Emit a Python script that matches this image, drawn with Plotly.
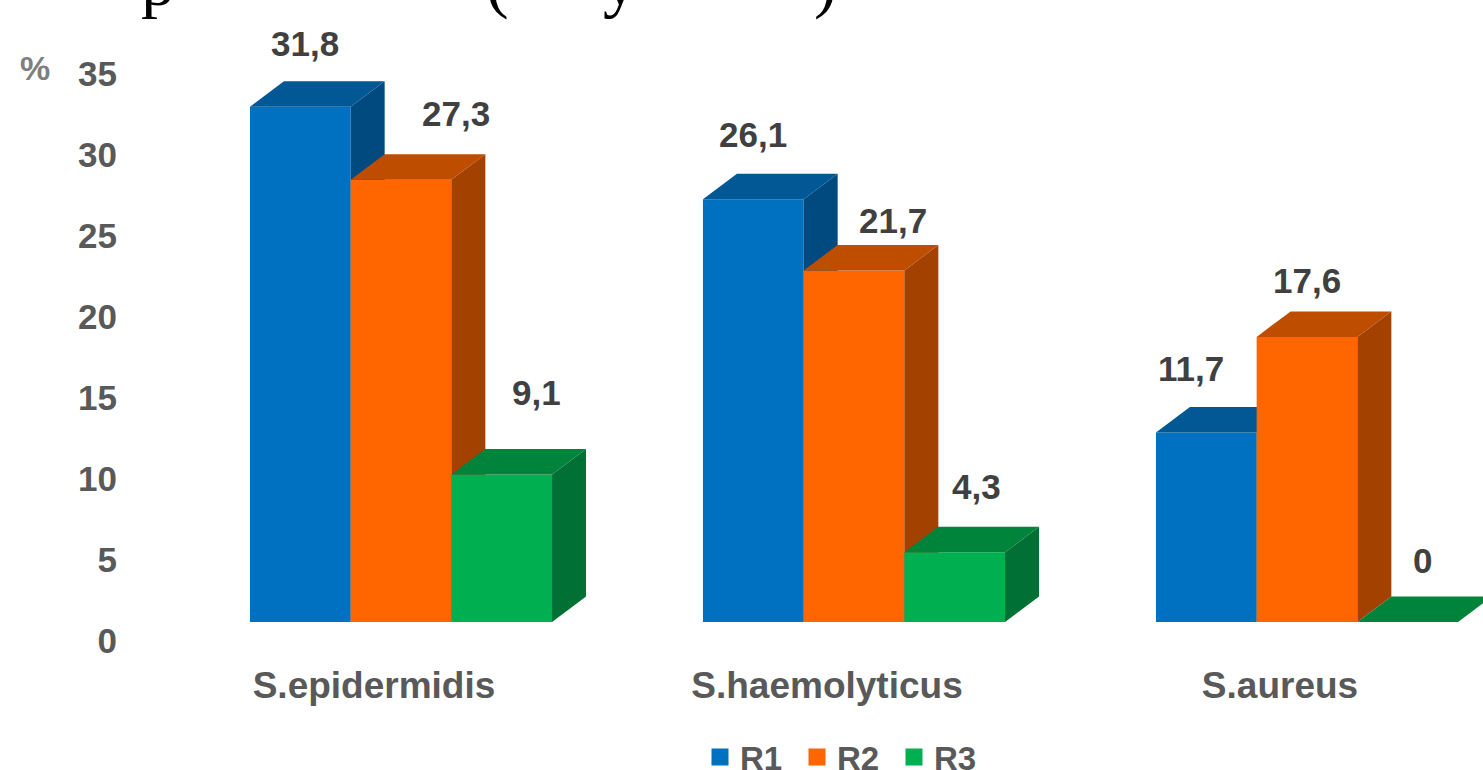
import plotly.graph_objects as go

categories = ["S.epidermidis", "S.haemolyticus", "S.aureus"]
series_names = ["R1", "R2", "R3"]
r1 = [31.8, 26.1, 11.7]
r2 = [27.3, 21.7, 17.6]
r3 = [9.1, 4.3, 0]
y_ticks = [0, 5, 10, 15, 20, 25, 30, 35]
cut_title = ["p", "(", "y", ")"]

# styles
front = ["#0070C0", "#FF6600", "#00B050"]
top = ["#015894", "#BF4D00", "#00843C"]
side = ["#014A7F", "#A34100", "#007034"]
W, H = 1483, 770
px_x = 453.0        # pixels per category
px_y = 16.2         # pixels per unit
bar_w = 100.7 / px_x
dx = 34 / px_x      # depth offsets
dy = 25.5 / px_y
x0_px = 401.0       # pixel of first category centre
axis_px = 125.0     # pixel of y axis
base_px = 622.0     # pixel of value 0
# label nudges (px) per series per category
lab_dx = [[5, 0, -15], [55, 39, 0], [35, 22, 15]]
lab_dy = [[63, 65, 64], [66, 50, 56], [82, 66, 62]]
title_px = [158, 497, 620, 825]

values = [r1, r2, r3]
group_pos = list(range(len(categories)))
fig = go.Figure()
for s, vals in enumerate(values):
    xc = [g + (s - 1) * bar_w for g in group_pos]
    tx, ty, sx, sy = [], [], [], []
    for c, v in zip(xc, vals):
        l, r = c - bar_w / 2, c + bar_w / 2
        tx += [l, l + dx, r + dx, r, l, None]
        ty += [v, v + dy, v + dy, v, v, None]
        sx += [r, r + dx, r + dx, r, r, None]
        sy += [0, dy, v + dy, v, 0, None]
    fig.add_trace(go.Scatter(x=sx, y=sy, mode="lines", fill="toself", fillcolor=side[s],
                             line=dict(width=0), showlegend=False, hoverinfo="skip", zorder=s))
    fig.add_trace(go.Scatter(x=tx, y=ty, mode="lines", fill="toself", fillcolor=top[s],
                             line=dict(width=0), showlegend=False, hoverinfo="skip", zorder=s))
    fig.add_trace(go.Bar(x=xc, y=vals, width=bar_w, name=series_names[s], showlegend=False,
                         marker=dict(color=front[s], line=dict(width=0)), zorder=s))
    fig.add_trace(go.Bar(x=[None], y=[None], name=series_names[s], showlegend=True,
                         marker=dict(color=front[s], line=dict(width=8, color=front[s]))))
    for c, v, ax, ay, in zip(xc, vals, lab_dx[s], lab_dy[s]):
        fig.add_annotation(x=c, y=v, text=str(v).replace(".", ","), showarrow=False,
                           xshift=ax, yshift=ay, xanchor="center", yanchor="middle",
                           font=dict(family="Liberation Sans", size=35, color="#404040", weight="bold"))

for t, p in zip(cut_title, title_px):
    fig.add_annotation(xref="paper", yref="paper", x=p / W, y=1, text=t, showarrow=False,
                       xanchor="center", yanchor="bottom", yshift=-22,
                       font=dict(family="Liberation Serif", size=68, color="#000000"))

fig.add_annotation(xref="paper", yref="paper", x=35 / W, y=1 - 68 / H, text="%",
                   showarrow=False, xanchor="center", yanchor="middle",
                   font=dict(family="Liberation Sans", size=34, color="#7F7F7F", weight="bold"))

fig.update_layout(
    width=W, height=H, margin=dict(l=0, r=0, t=0, b=0, autoexpand=False),
    paper_bgcolor="white", plot_bgcolor="white", barmode="overlay",
    xaxis=dict(domain=[axis_px / W, 1], range=[(axis_px - x0_px) / px_x, (W - x0_px) / px_x],
               tickmode="array", tickvals=group_pos, ticktext=categories, showgrid=False,
               zeroline=False, showline=False, ticks="", ticklabelstandoff=38, ticklabelshift=-27,
               tickfont=dict(family="Liberation Sans", size=37, color="#595959", weight="bold")),
    yaxis=dict(domain=[(H - base_px) / H, 1], range=[0, base_px / px_y],
               tickmode="array", tickvals=y_ticks, showgrid=False, zeroline=False, showline=False,
               ticks="", ticklabelshift=19, ticklabelstandoff=7,
               tickfont=dict(family="Liberation Sans", size=35, color="#595959", weight="bold")),
    legend=dict(orientation="h", xref="container", yref="container", x=700 / W, y=(H - 729) / H,
                xanchor="left", yanchor="top", entrywidth=52, entrywidthmode="pixels",
                font=dict(family="Liberation Sans", size=33, color="#595959", weight="bold"),
                bgcolor="rgba(0,0,0,0)", traceorder="normal"),
)
fig.write_html("out.html", post_script="document.body.style.margin='0';", config={"displayModeBar": False})
